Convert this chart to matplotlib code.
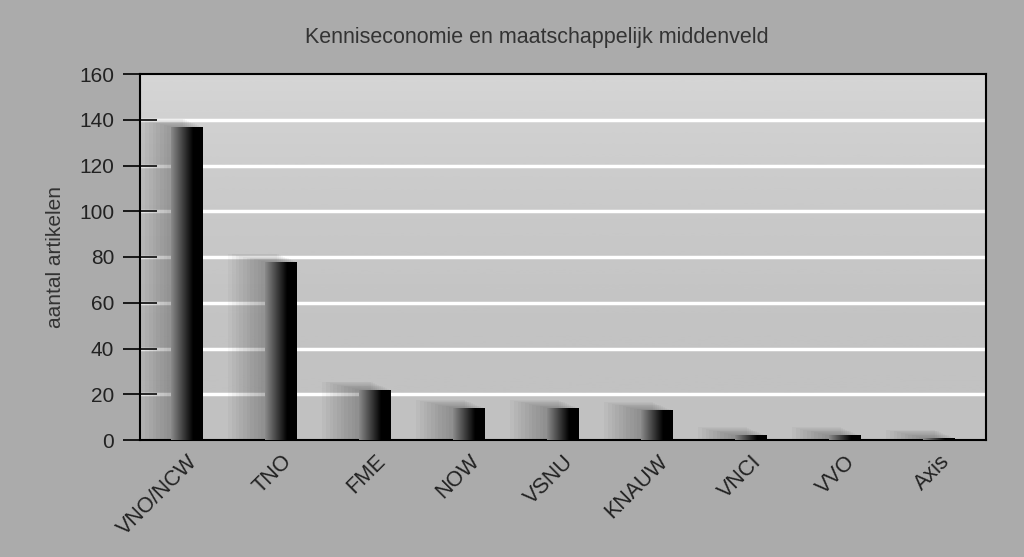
import numpy as np
import matplotlib
matplotlib.use('Agg')
import matplotlib.pyplot as plt
from matplotlib.patches import Rectangle

plt.rcParams['font.family'] = ['Liberation Sans', 'DejaVu Sans']

# data
categories = ['VNO/NCW', 'TNO', 'FME', 'NOW', 'VSNU', 'KNAUW', 'VNCI', 'VVO', 'Axis']
counts = [137, 78, 22, 14, 14, 13, 2, 2, 1]
yticks = [0, 20, 40, 60, 80, 100, 120, 140, 160]

fig = plt.figure(figsize=(10.24, 5.57), dpi=100)
fig.patch.set_facecolor('#ababab')
ax = fig.add_axes([140/1024, 1 - 440/557, 846/1024, 366/557])
ax.set_facecolor('#c6c6c6')

n = len(categories)
ax.set_xlim(-0.5, n - 0.5)
ax.set_ylim(0, 160)

# plot area gets lighter towards the top
vert = np.linspace(0, 1, 200).reshape(-1, 1) ** 2
ax.imshow(vert, extent=(-0.5, n - 0.5, 0, 160), aspect='auto', cmap='gray',
          vmin=-3.2, vmax=1.2, alpha=0.35, zorder=0, origin='lower')

for v in yticks[1:-1]:
    ax.axhline(v, color='white', lw=2.5, zorder=1)

width = 0.34
bars = ax.bar(range(n), counts, width=width, color='none', zorder=3)
grad = np.linspace(0, 1, 64).reshape(1, -1)
for b in bars:
    x0, h = b.get_x(), b.get_height()
    # blurred shadow, mostly to the left of each bar
    for k in range(10):
        dx = 0.03 * (k + 1)
        dy = 0.35 * (k + 1)
        ax.add_patch(Rectangle((x0 - dx * 1.3, 0), width + dx * 0.6, h + dy,
                               color='#3a3a3a', alpha=0.04, lw=0, zorder=2))
    im = ax.imshow(grad, extent=(x0, x0 + width, 0, h), aspect='auto',
                   cmap='gray_r', vmin=-0.6, vmax=0.7, zorder=3)
    im.set_clip_path(b)

ax.set_xticks(range(n))
ax.set_xticklabels(categories, rotation=45, ha='right', va='top',
                   rotation_mode='anchor', fontsize=15.5, color='#222222')
ax.tick_params(axis='x', length=0, pad=8)
ax.set_yticks(yticks)
ax.tick_params(axis='y', direction='inout', length=25, width=1.2, labelsize=15,
               labelcolor='#222222', pad=6)
for s in ax.spines.values():
    s.set_linewidth(1.5)
    s.set_color('black')

ax.set_ylabel('aantal artikelen', fontsize=15, color='#333333', labelpad=10)
fig.text(537/1024, 1 - 37/557, 'Kenniseconomie en maatschappelijk middenveld',
         ha='center', va='center', fontsize=15.5, color='#333333')

fig.savefig('out.png', dpi=100, facecolor=fig.get_facecolor())
